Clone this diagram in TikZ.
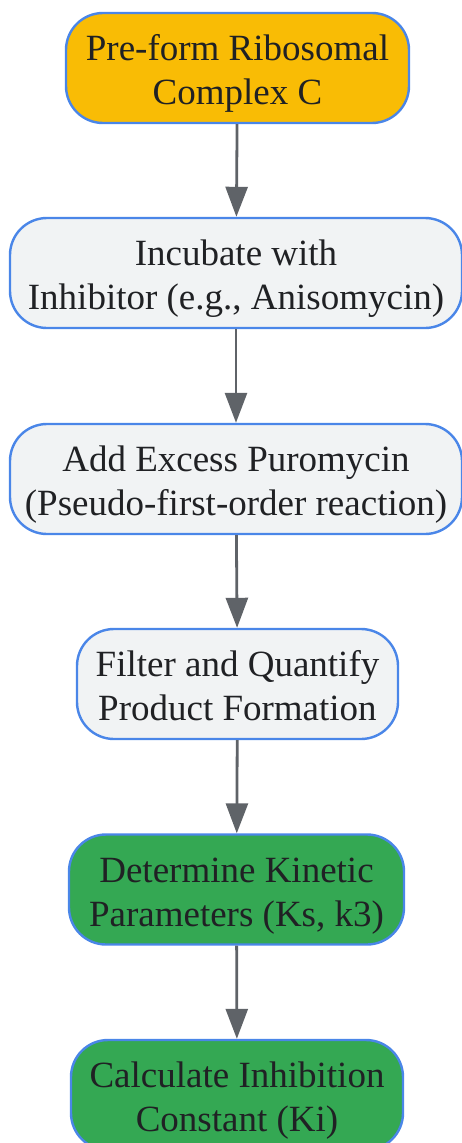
\documentclass[tikz,border=0pt]{standalone}
\usepackage{fontspec}
\setmainfont{Liberation Serif}
\usetikzlibrary{arrows.meta}
\definecolor{bordblue}{HTML}{4A86E8}
\definecolor{yellowfill}{HTML}{F9BC05}
\definecolor{greyfill}{HTML}{F1F3F4}
\definecolor{greenfill}{HTML}{34A853}
\definecolor{arrowgrey}{HTML}{5F6368}
\definecolor{textdark}{HTML}{202124}
\newcommand{\twolines}[2]{\raisebox{-6pt}[\height][\depth]{\begin{tabular}{@{}c@{}}#1\\#2\end{tabular}}}
\begin{document}
\begin{tikzpicture}[x=1pt,y=-1pt,
  box/.style={draw=bordblue,line width=2.4pt,rounded corners=37pt,align=center,
    font=\fontsize{37}{44}\selectfont,text=textdark,inner sep=0pt},
  arr/.style={draw=arrowgrey,line width=2.8pt,-{Triangle[length=30pt,width=22pt]}}]
\useasboundingbox (0,0) rectangle (462,1143);
\node[box,fill=yellowfill,minimum width=343pt,minimum height=110pt] (a) at (237.5,68) {\twolines{Pre-form Ribosomal}{Complex C}};
\node[box,fill=greyfill,minimum width=452pt,minimum height=110pt] (b) at (236,273) {\twolines{Incubate with}{Inhibitor (e.g., Anisomycin)}};
\node[box,fill=greyfill,minimum width=452pt,minimum height=110pt] (c) at (236,479) {\twolines{Add Excess Puromycin}{(Pseudo-first-order reaction)}};
\node[box,fill=greyfill,minimum width=321pt,minimum height=110pt] (d) at (237.5,684) {\twolines{Filter and Quantify}{Product Formation}};
\node[box,fill=greenfill,minimum width=335pt,minimum height=110pt] (e) at (236.5,889.5) {\twolines{Determine Kinetic}{Parameters (Ks, k3)}};
\node[box,fill=greenfill,minimum width=332pt,minimum height=110pt] (f) at (237,1095) {\twolines{Calculate Inhibition}{Constant (Ki)}};
\draw[arr] (a) -- (b);
\draw[arr] (b) -- (c);
\draw[arr] (c) -- (d);
\draw[arr] (d) -- (e);
\draw[arr] (e) -- (f);
\end{tikzpicture}
\end{document}
